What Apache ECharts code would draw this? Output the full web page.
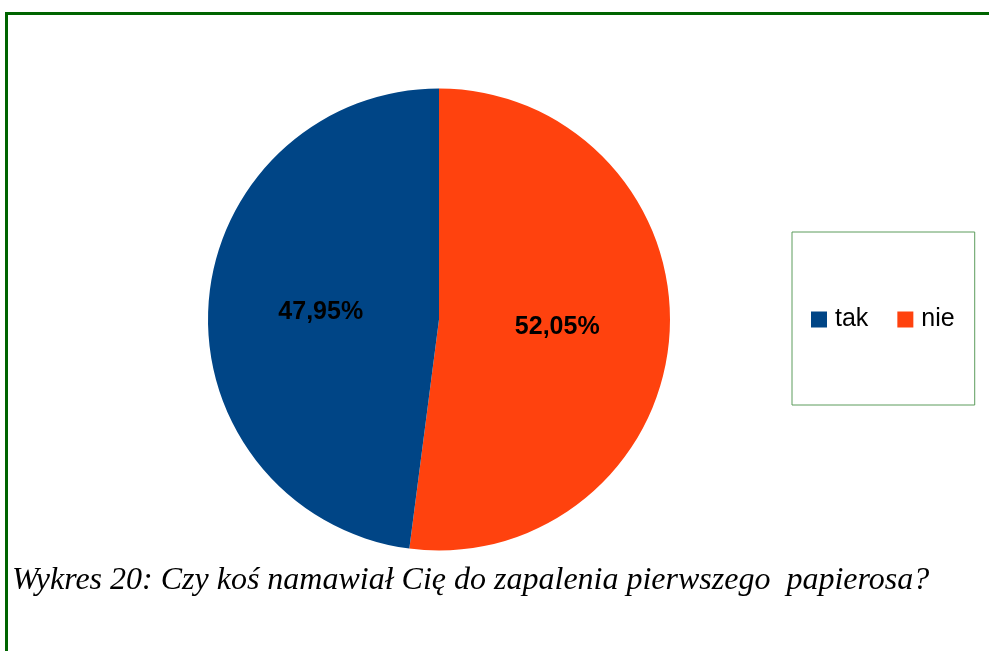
<!DOCTYPE html>
<html>
<head>
<meta charset="utf-8">
<script src="https://cdn.jsdelivr.net/npm/echarts@6/dist/echarts.min.js"></script>
<style>
  html, body { margin: 0; padding: 0; background: #fff; }
  #chart { width: 989px; height: 651px; }
</style>
</head>
<body>
<div id="chart"></div>
<script>
// answers and their shares (%)
var categories = ["nie", "tak"];
var values = [52.05, 47.95];
var colors = ["#ff420e", "#004586"];
var legendOrder = ["tak", "nie"];
var caption = "Wykres 20: Czy koś namawiał Cię do zapalenia pierwszego  papierosa?";

var myChart = echarts.init(document.getElementById("chart"));

var data = categories.map(function (name, i) {
  return { name: name, value: values[i], itemStyle: { color: colors[i] } };
});

var option = {
  animation: false,
  title: {
    text: caption,
    left: 12,
    top: 565,
    padding: 0,
    textStyle: {
      fontFamily: "Liberation Serif",
      fontStyle: "italic",
      fontWeight: "normal",
      fontSize: 32,
      color: "#000",
    },
  },
  legend: {
    data: legendOrder,
    orient: "horizontal",
    left: 792,
    top: 232,
    padding: [75, 20, 73, 19],
    borderColor: "#5c9c5c",
    borderWidth: 1,
    icon: "rect",
    itemWidth: 16,
    itemHeight: 16,
    itemGap: 29,
    textStyle: {
      fontFamily: "Liberation Sans",
      fontSize: 25,
      color: "#000",
      padding: [0, 0, 0, 3],
    },
  },
  graphic: [
    { type: "rect", shape: { x: 5, y: 12, width: 984, height: 3 }, style: { fill: "#006400" } },
    { type: "rect", shape: { x: 5, y: 12, width: 3, height: 639 }, style: { fill: "#006400" } },
  ],
  series: [
    {
      type: "pie",
      center: [439, 319.5],
      radius: 231,
      startAngle: 90,
      clockwise: true,
      avoidLabelOverlap: false,
      label: {
        show: true,
        position: "inside",
        fontFamily: "Liberation Sans",
        fontWeight: "bold",
        fontSize: 25,
        color: "#000",
        formatter: function (p) {
          return p.value.toFixed(2).replace(".", ",") + "%";
        },
      },
      labelLine: { show: false },
      emphasis: { disabled: true },
      data: data,
    },
  ],
};

myChart.setOption(option);
</script>
</body>
</html>
